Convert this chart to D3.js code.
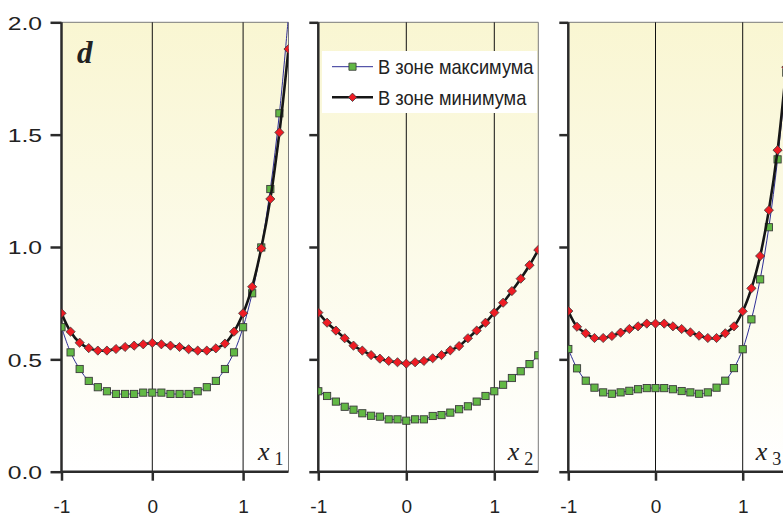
<!DOCTYPE html>
<html>
<head>
<meta charset="utf-8">
<script src="https://cdn.jsdelivr.net/npm/d3@7"></script>
<style>
  body { margin: 0; background: #fff; }
  svg { display: block; }
</style>
</head>
<body>
<div id="visContainer"></div>
<script>
'use strict';

// x positions of the measured points (same for every panel)
const xPoints = [-1, -0.9, -0.8, -0.7, -0.6, -0.5, -0.4, -0.3, -0.2, -0.1, 0,
  0.1, 0.2, 0.3, 0.4, 0.5, 0.6, 0.7, 0.8, 0.9, 1, 1.1, 1.2, 1.3, 1.4, 1.5];

// panel x1
const maxZone1 = [0.643, 0.531, 0.457, 0.404, 0.376, 0.358, 0.346, 0.346, 0.346, 0.352, 0.352,
  0.352, 0.346, 0.346, 0.346, 0.358, 0.376, 0.404, 0.457, 0.531, 0.643, 0.794, 0.998, 1.258, 1.595, 2.03];
const minZone1 = [0.705, 0.623, 0.574, 0.550, 0.539, 0.539, 0.546, 0.555, 0.561, 0.567, 0.573,
  0.567, 0.561, 0.555, 0.545, 0.539, 0.539, 0.549, 0.570, 0.623, 0.705, 0.823, 0.994, 1.214, 1.510, 1.881];

// panel x2
const maxZone2 = [0.358, 0.337, 0.312, 0.289, 0.276, 0.260, 0.249, 0.245, 0.233, 0.233, 0.227,
  0.233, 0.233, 0.248, 0.252, 0.263, 0.278, 0.291, 0.312, 0.337, 0.358, 0.387, 0.417, 0.447, 0.479, 0.518];
const minZone2 = [0.708, 0.663, 0.628, 0.594, 0.561, 0.539, 0.519, 0.503, 0.493, 0.487, 0.481,
  0.487, 0.493, 0.505, 0.519, 0.540, 0.559, 0.594, 0.628, 0.663, 0.708, 0.752, 0.804, 0.859, 0.919, 0.987];

// panel x3
const maxZone3 = [0.546, 0.460, 0.405, 0.374, 0.353, 0.347, 0.353, 0.360, 0.367, 0.372, 0.372,
  0.372, 0.367, 0.359, 0.353, 0.347, 0.353, 0.374, 0.405, 0.461, 0.545, 0.678, 0.856, 1.088, 1.390, 1.776];
const minZone3 = [0.715, 0.645, 0.616, 0.595, 0.595, 0.604, 0.619, 0.635, 0.647, 0.659, 0.659,
  0.659, 0.647, 0.635, 0.620, 0.605, 0.595, 0.595, 0.616, 0.647, 0.714, 0.816, 0.960, 1.164, 1.431, 1.80];

// axis ticks and labels
const yTicks = [0, 0.5, 1, 1.5, 2];
const xTicks = [-1, 0, 1];
const gridX = [0, 1];
const panelNames = ['1', '2', '3'];
const seriesNames = ['В зоне максимума', 'В зоне минимума'];

// layout of the three panels (pixels)
var panels = [
  {left: 61.5, width: 227, max: maxZone1, min: minZone1},
  {left: 318.3, width: 220, max: maxZone2, min: minZone2},
  {left: 568.3, width: 218, max: maxZone3, min: minZone3}
];
var plotTop = 22.3, plotBottom = 471.7;

var svg = d3.select('#visContainer')
  .append('svg')
  .attr('width', 783)
  .attr('height', 517);

// yellow -> white background gradient
var defs = svg.append('defs');
var grad = defs.append('linearGradient')
  .attr('id', 'bg')
  .attr('x1', 0).attr('y1', 0).attr('x2', 0).attr('y2', 1);
grad.append('stop').attr('offset', '0%').attr('stop-color', '#f9f6d2');
grad.append('stop').attr('offset', '100%').attr('stop-color', '#ffffff');

var y = d3.scaleLinear().domain([0, 2]).range([plotBottom, plotTop]);

var diamond = function(r) { return 'M0,' + (-r) + 'L' + r + ',0L0,' + r + 'L' + (-r) + ',0Z'; };

panels.forEach(function(p, i) {
  var x = d3.scaleLinear().domain([-1, 1.5]).range([p.left, p.left + p.width]);

  // plot area
  svg.append('rect')
    .attr('x', x(-1)).attr('y', plotTop)
    .attr('width', p.width).attr('height', plotBottom - plotTop)
    .attr('fill', 'url(#bg)');

  defs.append('clipPath').attr('id', 'clip' + i)
    .append('rect')
    .attr('x', x(-1)).attr('y', plotTop)
    .attr('width', p.width).attr('height', plotBottom - plotTop);

  // top and right border
  svg.append('path')
    .attr('d', 'M' + x(-1) + ',' + plotTop + 'H' + x(1.5) + 'V' + plotBottom)
    .attr('fill', 'none')
    .attr('stroke', '#7a7a7a')
    .attr('stroke-width', 1);

  // vertical lines at 0 and 1
  svg.selectAll(null).data(gridX).enter().append('line')
    .attr('x1', function(d) { return x(d); })
    .attr('x2', function(d) { return x(d); })
    .attr('y1', plotTop).attr('y2', plotBottom)
    .attr('stroke', '#111')
    .attr('stroke-width', 1);

  // y axis
  var yAxis = svg.append('g')
    .attr('transform', 'translate(' + x(-1) + ',0)')
    .call(d3.axisLeft(y).tickValues(yTicks).tickSize(i === 0 ? 11 : 9).tickFormat(d3.format('.1f')));
  yAxis.select('.domain').attr('d', 'M0,' + plotTop + 'V' + plotBottom)
    .attr('stroke', '#2b2b2b').attr('stroke-width', 2.5);
  yAxis.selectAll('.tick line').attr('stroke', '#2b2b2b').attr('stroke-width', 2.5);
  if (i === 0) {
    yAxis.selectAll('.tick text')
      .attr('x', 0).attr('dy', '0.36em')
      .attr('transform', 'translate(-19.5,0) scale(1.3,1)')
      .style('font-family', '"Liberation Sans", Arial, sans-serif')
      .style('font-size', '19px')
      .attr('fill', '#222');
  } else {
    yAxis.selectAll('.tick text').remove();
  }

  // x axis
  var xAxis = svg.append('g')
    .attr('transform', 'translate(0,' + plotBottom + ')')
    .call(d3.axisBottom(x).tickValues(xTicks).tickSize(9).tickFormat(d3.format('d')));
  xAxis.select('.domain').attr('d', 'M' + x(-1) + ',0H' + x(1.5))
    .attr('stroke', '#2b2b2b').attr('stroke-width', 2.5);
  xAxis.selectAll('.tick line').attr('stroke', '#2b2b2b').attr('stroke-width', 2.5);
  xAxis.selectAll('.tick text')
    .attr('y', 41).attr('dy', 0)
    .style('font-family', '"Liberation Sans", Arial, sans-serif')
    .style('font-size', '19px')
    .attr('fill', '#222')
    .text(function(d) { return d < 0 ? '-' + Math.abs(d) : d; });

  // data series
  var plot = svg.append('g').attr('clip-path', 'url(#clip' + i + ')');
  var line = d3.line()
    .x(function(d, j) { return x(xPoints[j]); })
    .y(function(d) { return y(d); })
    .curve(d3.curveCatmullRom.alpha(0.5));

  plot.append('path').datum(p.max)
    .attr('d', line)
    .attr('fill', 'none')
    .attr('stroke', '#2e2e96')
    .attr('stroke-width', 1);

  plot.selectAll('.sq').data(p.max).enter().append('rect')
    .attr('class', 'sq')
    .attr('x', function(d, j) { return x(xPoints[j]) - 3.6; })
    .attr('y', function(d) { return y(d) - 3.6; })
    .attr('width', 7.2).attr('height', 7.2)
    .attr('fill', '#62b845')
    .attr('stroke', '#3a3a3a')
    .attr('stroke-width', 0.9);

  plot.append('path').datum(p.min)
    .attr('d', line)
    .attr('fill', 'none')
    .attr('stroke', '#161616')
    .attr('stroke-width', 2.6);

  plot.selectAll('.dm').data(p.min).enter().append('path')
    .attr('class', 'dm')
    .attr('transform', function(d, j) { return 'translate(' + x(xPoints[j]) + ',' + y(d) + ')'; })
    .attr('d', diamond(4.6))
    .attr('fill', '#ee1c24')
    .attr('stroke', '#3a3a3a')
    .attr('stroke-width', 0.8);

  // panel label x_i
  var lbl = svg.append('text')
    .attr('x', x(1.5) - 5)
    .attr('y', 459.5)
    .attr('text-anchor', 'end')
    .style('font-family', '"Liberation Serif", "Times New Roman", serif')
    .attr('fill', '#222');
  lbl.append('tspan').style('font-style', 'italic').style('font-size', '26px').text('x');
  lbl.append('tspan').attr('dx', 5).attr('dy', 5).style('font-size', '18px').text(panelNames[i]);
});

// letter d in the first panel
svg.append('text')
  .attr('x', 77).attr('y', 63)
  .style('font-family', '"Liberation Serif", "Times New Roman", serif')
  .style('font-style', 'italic')
  .style('font-weight', 'bold')
  .style('font-size', '31px')
  .attr('fill', '#222')
  .text('d');

// legend
var legend = svg.append('g');
legend.append('rect')
  .attr('x', 322).attr('y', 51)
  .attr('width', 215).attr('height', 62)
  .attr('fill', '#fff');

var legendRows = legend.selectAll('.row').data(seriesNames).enter().append('g')
  .attr('class', 'row')
  .attr('transform', function(d, i) { return 'translate(0,' + (i === 0 ? 66.7 : 97.3) + ')'; });

legendRows.append('line')
  .attr('x1', 332).attr('x2', 373)
  .attr('stroke', function(d, i) { return i === 0 ? '#2e2e96' : '#161616'; })
  .attr('stroke-width', function(d, i) { return i === 0 ? 1 : 2.6; });

legendRows.append('path')
  .attr('transform', 'translate(352.5,0)')
  .attr('d', function(d, i) { return i === 0 ? 'M-3.6,-3.6h7.2v7.2h-7.2Z' : diamond(4.2); })
  .attr('fill', function(d, i) { return i === 0 ? '#62b845' : '#ee1c24'; })
  .attr('stroke', '#3a3a3a')
  .attr('stroke-width', 0.8);

legendRows.append('text')
  .attr('transform', 'translate(378,7.5) scale(0.87,1)')
  .style('font-family', '"Liberation Sans", Arial, sans-serif')
  .style('font-size', '21px')
  .attr('fill', '#222')
  .text(function(d) { return d; });
</script>
</body>
</html>
